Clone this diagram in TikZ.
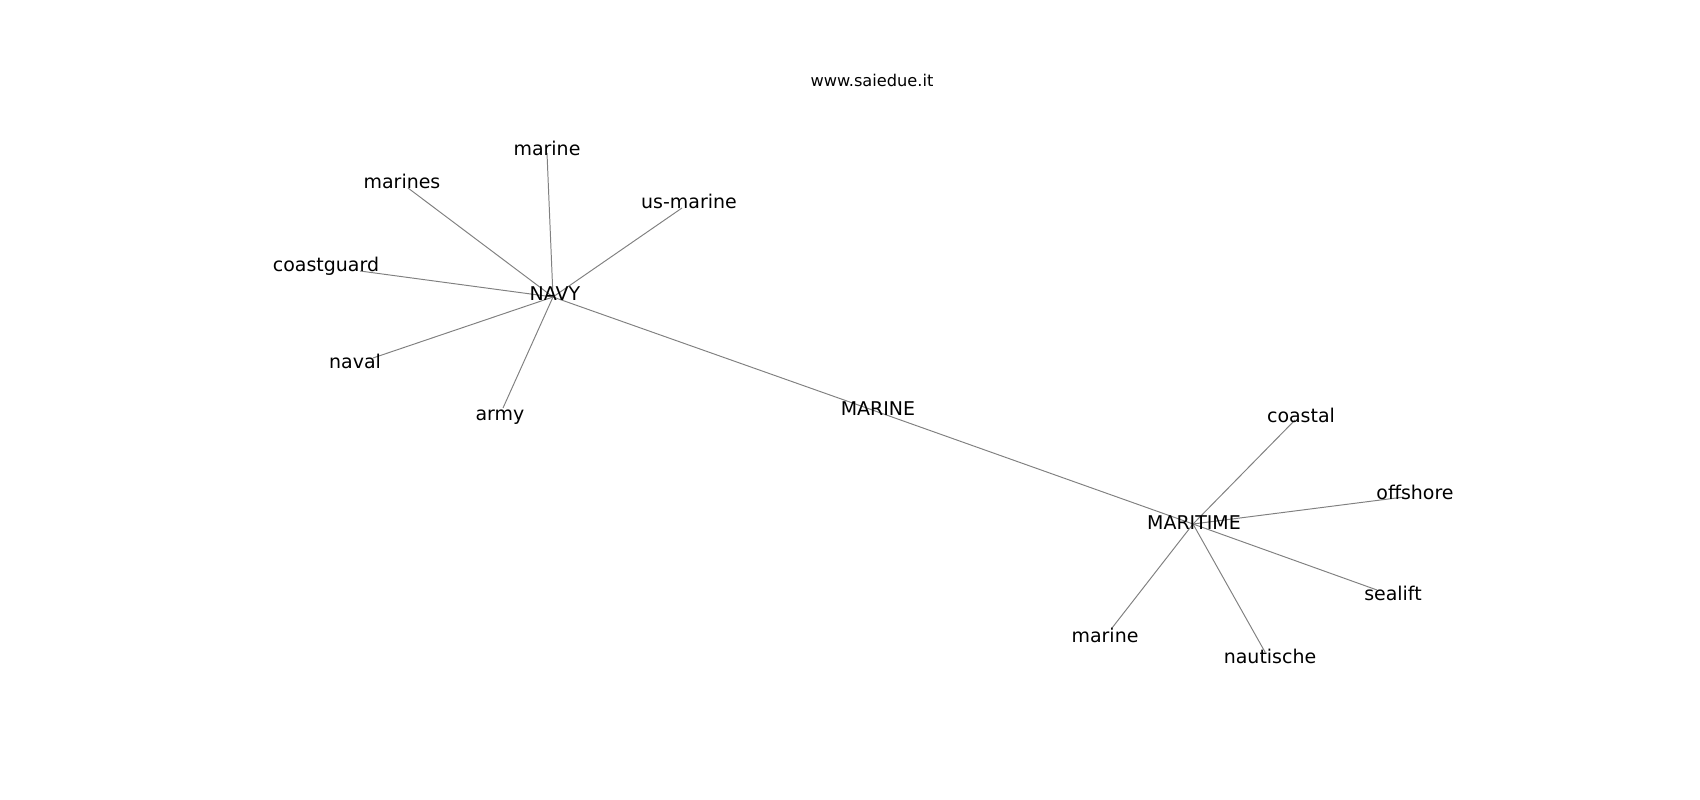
\documentclass[tikz,border=0pt]{standalone}
\usepackage{fontspec}
\setmainfont{DejaVu Sans}
\usepackage{tikz}

\begin{document}
\begin{tikzpicture}[x=0.01in,y=-0.01in,
	word/.style={anchor=base,inner sep=0pt,font=\fontsize{13.7}{16}\selectfont},
	link/.style={gray,line width=0.7pt}]
\useasboundingbox (0,0) rectangle (1700,800);

% hubs
\coordinate (Navy) at (553,297);
\coordinate (Marine) at (878,412);
\coordinate (Maritime) at (1193,524);

% leaves round NAVY
\coordinate (navy1) at (547,153);
\coordinate (navy2) at (408,188);
\coordinate (navy3) at (682,208);
\coordinate (navy4) at (360,271);
\coordinate (navy5) at (373,358);
\coordinate (navy6) at (503,408);

% leaves round MARITIME
\coordinate (mar1) at (1295,420);
\coordinate (mar2) at (1404,497);
\coordinate (mar3) at (1377,590);
\coordinate (mar4) at (1265,652);
\coordinate (mar5) at (1112,628);

\draw [link] (Navy) -- (Marine);
\draw [link] (Marine) -- (Maritime);
\foreach \leaf in {navy1,navy2,navy3,navy4,navy5,navy6}
	{
	\draw [link] (Navy) -- (\leaf);
	}
\foreach \leaf in {mar1,mar2,mar3,mar4,mar5}
	{
	\draw [link] (Maritime) -- (\leaf);
	}

% labels
\node[word] (NavyText) at (555,301) {NAVY};
\node[word] (MarineText) at (878,416) {MARINE};
\node[word] (MaritimeText) at (1194,529) {MARITIME};

\node[word] (navy1Text) at (547,156) {marine};
\node[word] (navy2Text) at (402,189) {marines};
\node[word] (navy3Text) at (689,209) {us-marine};
\node[word] (navy4Text) at (326,272) {coastguard};
\node[word] (navy5Text) at (355,369) {naval};
\node[word] (navy6Text) at (500,421) {army};

\node[word] (mar1Text) at (1301,422) {coastal};
\node[word] (mar2Text) at (1415,500) {offshore};
\node[word] (mar3Text) at (1393,600) {sealift};
\node[word] (mar4Text) at (1270,663) {nautische};
\node[word] (mar5Text) at (1105,642) {marine};

\node[anchor=base,inner sep=0pt,font=\fontsize{11.7}{14}\selectfont] (site) at (872,87) {www.saiedue.it};
\end{tikzpicture}
\end{document}
